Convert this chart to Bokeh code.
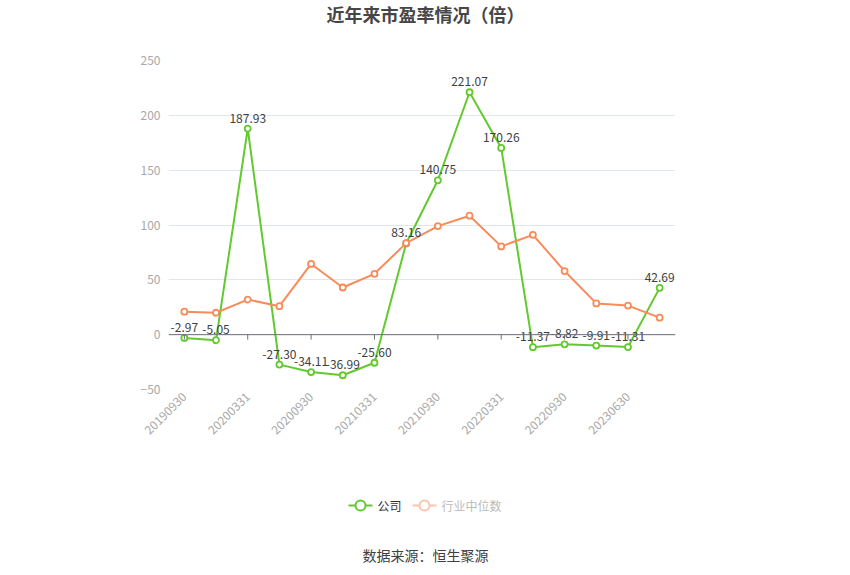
import math
from bokeh.plotting import figure
from bokeh.layouts import column
from bokeh.models import Range1d, FixedTicker, Span, ColumnDataSource
from bokeh.core.properties import value
from bokeh.embed import file_html
from bokeh.resources import INLINE

# ---------------- data ----------------
dates = ["20190930", "20191231", "20200331", "20200630", "20200930", "20201231",
         "20210331", "20210630", "20210930", "20211231", "20220331", "20220630",
         "20220930", "20221231", "20230630", "20230930"]
company_pe = [-2.97, -5.05, 187.93, -27.30, -34.11, -36.99, -25.60, 83.16,
              140.75, 221.07, 170.26, -11.37, -8.82, -9.91, -11.31, 42.69]
industry_median_pe = [21.0, 20.0, 32.0, 26.0, 64.5, 43.0, 55.5, 83.5,
                      99.0, 108.5, 80.5, 91.0, 58.0, 28.5, 26.5, 15.5]
y_ticks = [-50, 0, 50, 100, 150, 200, 250]
label_step = 2

title_text = "近年来市盈率情况（倍）"
series_names = ["公司", "行业中位数"]
source_text = "数据来源：恒生聚源"

GREEN = "#62c92f"
ORANGE = "#f98b5b"
FONT = "Noto Sans CJK SC"
W = 834
FRAME_L, FRAME_R = 168, 675

idx = list(range(len(dates)))
tick_idx = idx[::label_step]


def blank(fig):
    fig.axis.visible = False
    fig.grid.grid_line_color = None
    fig.outline_line_color = None
    fig.background_fill_color = "white"
    fig.border_fill_color = "white"


# ---------------- title strip ----------------
TOP_H = 40
ptop = figure(width=W, height=TOP_H, x_range=Range1d(FRAME_L, FRAME_R),
              y_range=Range1d(0, TOP_H), output_backend="svg", toolbar_location=None,
              min_border_left=FRAME_L, min_border_right=W - FRAME_R,
              min_border_top=0, min_border_bottom=0)
blank(ptop)
ptop.text(x=[425], y=[TOP_H - 13], text=[title_text], text_align="center",
          text_baseline="middle", text_font=value(FONT), text_font_size="18px",
          text_font_style="bold", text_color="#464646")

# ---------------- main chart ----------------
MAIN_H = 430
p = figure(width=W, height=MAIN_H,
           x_range=Range1d(-0.5, len(dates) - 0.5),
           y_range=Range1d(-50, 250),
           output_backend="svg", toolbar_location=None,
           min_border_left=FRAME_L, min_border_right=W - FRAME_R,
           min_border_top=20, min_border_bottom=MAIN_H - 20 - 329)
p.outline_line_color = None
p.background_fill_color = "white"
p.border_fill_color = "white"

p.xaxis.ticker = FixedTicker(ticks=tick_idx)
p.xaxis.major_label_overrides = {i: dates[i] for i in tick_idx}
p.xaxis.axis_line_color = None
p.xaxis.major_tick_line_color = None
p.xaxis.minor_tick_line_color = None
p.xaxis.major_tick_out = 0
p.xaxis.major_tick_in = 0
p.xaxis.minor_tick_out = 0
p.xaxis.major_label_orientation = math.pi / 4
p.xaxis.major_label_text_color = "#a8a8a8"
p.xaxis.major_label_text_font = FONT
p.xaxis.major_label_text_font_size = "12px"
p.xaxis.major_label_standoff = 5

p.yaxis.ticker = FixedTicker(ticks=y_ticks)
p.yaxis.axis_line_color = None
p.yaxis.major_tick_line_color = None
p.yaxis.minor_tick_line_color = None
p.yaxis.major_tick_out = 0
p.yaxis.major_tick_in = 0
p.yaxis.minor_tick_out = 0
p.yaxis.major_label_text_color = "#a8a8a8"
p.yaxis.major_label_text_font = FONT
p.yaxis.major_label_text_font_size = "12px"
p.yaxis.major_label_standoff = 8

p.xgrid.grid_line_color = None
p.ygrid.ticker = FixedTicker(ticks=y_ticks)
p.ygrid.grid_line_color = "#e0e6f1"

src = ColumnDataSource(dict(x=idx, company=company_pe, median=industry_median_pe,
                            label=[f"{v:.2f}" for v in company_pe]))

p.line("x", "company", source=src, line_color=GREEN, line_width=2)
p.scatter("x", "company", source=src, size=6, fill_color="white",
          line_color=GREEN, line_width=1.8)

p.line("x", "median", source=src, line_color=ORANGE, line_width=2)
p.scatter("x", "median", source=src, size=6, fill_color="white",
          line_color=ORANGE, line_width=1.8)

p.add_layout(Span(location=0, dimension="width", line_color="#6e7079", line_width=1))
p.segment(x0=tick_idx, y0=[0] * len(tick_idx), x1=tick_idx,
          y1=[-4.5] * len(tick_idx), line_color="#6e7079", line_width=1)

p.text("x", "company", text="label", source=src, y_offset=-6,
       text_align="center", text_baseline="bottom", text_font=value(FONT),
       text_font_size="12px", text_color="#404040")

# ---------------- legend + source strip ----------------
BOT_H = 95
pbot = figure(width=W, height=BOT_H, x_range=Range1d(FRAME_L, FRAME_R),
              y_range=Range1d(0, BOT_H), output_backend="svg", toolbar_location=None,
              min_border_left=FRAME_L, min_border_right=W - FRAME_R,
              min_border_top=0, min_border_bottom=0)
blank(pbot)
LEG_Y = BOT_H - 35
pbot.line(x=[348, 372], y=[LEG_Y, LEG_Y], line_color=GREEN, line_width=2)
pbot.scatter(x=[360], y=[LEG_Y], size=10, fill_color="white", line_color=GREEN, line_width=2)
pbot.text(x=[377], y=[LEG_Y], text=[series_names[0]], text_align="left",
          text_baseline="middle", text_font=value(FONT), text_font_size="12px",
          text_color="#333333")
pbot.line(x=[412, 436], y=[LEG_Y, LEG_Y], line_color="#fcc4ad", line_width=2)
pbot.scatter(x=[424], y=[LEG_Y], size=10, fill_color="white", line_color="#fcc4ad", line_width=2)
pbot.text(x=[441], y=[LEG_Y], text=[series_names[1]], text_align="left",
          text_baseline="middle", text_font=value(FONT), text_font_size="12px",
          text_color="#bbbbbb")
pbot.text(x=[425], y=[BOT_H - 84], text=[source_text], text_align="center",
          text_baseline="middle", text_font=value(FONT), text_font_size="14px",
          text_color="#404040")

layout = column(ptop, p, pbot, spacing=0)
open("out.html", "w").write(file_html(layout, INLINE))
